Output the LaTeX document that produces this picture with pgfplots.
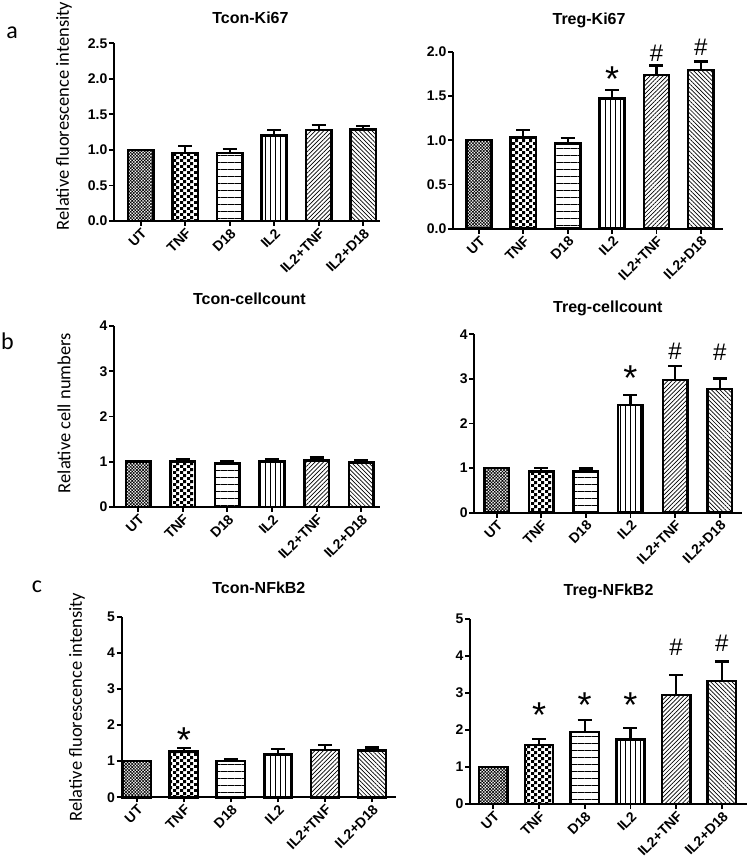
\documentclass[border=0pt]{standalone}
\usepackage{pgfplots}
\pgfplotsset{compat=1.18}
\usepackage{pgfplotstable}
\usepackage{fontspec}
\setmainfont{Liberation Sans}
\newfontfamily\carlito{Carlito}
\usetikzlibrary{patterns,patterns.meta}

\pgfdeclarepatternformonly{tnfpat}{\pgfpointorigin}{\pgfqpoint{6.4pt}{6.4pt}}{\pgfqpoint{6.4pt}{6.4pt}}{%
  \pgfpathrectangle{\pgfpointorigin}{\pgfqpoint{3.2pt}{3.2pt}}%
  \pgfpathrectangle{\pgfqpoint{3.2pt}{3.2pt}}{\pgfqpoint{3.2pt}{3.2pt}}%
  \pgfusepath{fill}}

\pgfplotstableread{
x y e
0 1.00 0
1 0.96 0.09
2 0.96 0.05
3 1.205 0.075
4 1.28 0.07
5 1.29 0.05
}\tA
\pgfplotstableread{
x y e
0 1.00 0
1 1.03 0.085
2 0.965 0.06
3 1.47 0.095
4 1.735 0.11
5 1.795 0.095
}\tB
\pgfplotstableread{
x y e
0 1.00 0
1 1.00 0.06
2 0.965 0.05
3 1.00 0.066
4 1.03 0.066
5 0.985 0.06
}\tC
\pgfplotstableread{
x y e
0 1.00 0
1 0.92 0.08
2 0.92 0.07
3 2.41 0.22
4 2.98 0.31
5 2.77 0.24
}\tD
\pgfplotstableread{
x y e
0 1.00 0
1 1.27 0.09
2 1.01 0.055
3 1.19 0.14
4 1.31 0.13
5 1.29 0.09
}\tE
\pgfplotstableread{
x y e
0 1.00 0
1 1.60 0.15
2 1.95 0.31
3 1.75 0.31
4 2.95 0.54
5 3.33 0.52
}\tF

\pgfplotsset{
  panel/.style={scale only axis, axis lines*=left, clip=false, enlargelimits=false,
    anchor=south west, ymin=0,
    xtick={0,1,2,3,4,5}, xticklabels={UT,TNF,D18,IL2,IL2+TNF,IL2+D18},
    tick align=outside, major tick length=5pt,
    tick style={black, line width=1.8pt},
    axis line style={black, line width=2pt},
    ticklabel style={font=\bfseries\fontsize{14}{16}\selectfont},
    xticklabel style={rotate=45, anchor=north east, inner sep=1pt},
    yticklabel style={inner sep=1.5pt},
    /pgf/number format/assume math mode=true,
    every axis title shift=0pt,
    title style={font=\bfseries\fontsize{16}{18}\selectfont, anchor=center},
    ylabel style={font=\carlito\fontsize{18.5}{20}\selectfont, anchor=center},
    bar width=0.57,
  },
  BAR/.style={ybar, bar shift=0pt, draw=black, line width=2.5pt},
  EB/.style={error bars/y dir=plus, error bars/y explicit,
    error bars/error bar style={line width=2.2pt, black},
    error bars/error mark options={rotate=90, mark size=7pt, line width=2.2pt, black}},
}

\newcommand\sixbars[1]{%
  \addplot[BAR, pattern={Hatch[angle=45,distance=2.2pt,line width=0.6pt]}, restrict x to domain=-0.2:0.2] table[x=x,y=y]{#1};
  \addplot[BAR, pattern=tnfpat, EB, restrict x to domain=0.8:1.2] table[x=x,y=y,y error=e]{#1};
  \addplot[BAR, pattern={Lines[angle=0,distance=7pt,line width=0.7pt]}, EB, restrict x to domain=1.8:2.2] table[x=x,y=y,y error=e]{#1};
  \addplot[BAR, pattern={Lines[angle=90,distance=5pt,line width=0.7pt]}, EB, restrict x to domain=2.8:3.2] table[x=x,y=y,y error=e]{#1};
  \addplot[BAR, pattern={Lines[angle=45,distance=3pt,line width=0.7pt]}, EB, restrict x to domain=3.8:4.2] table[x=x,y=y,y error=e]{#1};
  \addplot[BAR, pattern={Lines[angle=-45,distance=3pt,line width=0.7pt]}, EB, restrict x to domain=4.8:5.2] table[x=x,y=y,y error=e]{#1};
}
\newcommand\stars[1]{\addplot[only marks, mark=*, mark size=0pt, mark options={draw=none,fill=none},
  nodes near coords={*}, nodes near coords style={anchor=base, yshift=-20.7pt, inner sep=0pt, text=black, font=\fontsize{36}{36}\selectfont}] coordinates {#1};}
\newcommand\hashes[1]{\addplot[only marks, mark=*, mark size=0pt, mark options={draw=none,fill=none},
  nodes near coords={\#}, nodes near coords style={anchor=base, yshift=-8.8pt, inner sep=0pt, text=black, font=\fontsize{24}{24}\selectfont}] coordinates {#1};}

\begin{document}
\begin{tikzpicture}
\useasboundingbox (0,0) rectangle (750pt,862pt);

% a left
\begin{axis}[panel, at={(114pt,641pt)}, width=266pt, height=177.7pt,
  xmin=-0.6, xmax=5.38, ymax=2.5, ytick={0,0.5,1,1.5,2,2.5},
  yticklabel style={/pgf/number format/fixed, /pgf/number format/fixed zerofill, /pgf/number format/precision=1},
  title={Tcon-Ki67}, title style={at={(rel axis cs:0.513,1.145)}},
  ylabel={Relative fluorescence intensity}, ylabel style={at={(rel axis cs:-0.188,0.591)}}]
\sixbars{\tA}
\end{axis}

% a right
\begin{axis}[panel, at={(453pt,633.3pt)}, width=270pt, height=177pt,
  xmin=-0.586, xmax=5.5, ymax=2, ytick={0,0.5,1,1.5,2},
  yticklabel style={/pgf/number format/fixed, /pgf/number format/fixed zerofill, /pgf/number format/precision=1},
  title={Treg-Ki67}, title style={at={(rel axis cs:0.504,1.179)}}]
\sixbars{\tB}
\stars{(3,1.78)}
\hashes{(4,1.99) (5,2.06)}
\end{axis}

% b left
\begin{axis}[panel, at={(114pt,355pt)}, width=266pt, height=181pt, bar width=0.55,
  xmin=-0.54, xmax=5.42, ymax=4, ytick={0,1,2,3,4},
  title={Tcon-cellcount}, title style={at={(rel axis cs:0.509,1.149)}},
  ylabel={Relative cell numbers}, ylabel style={at={(rel axis cs:-0.188,0.519)}}]
\sixbars{\tC}
\end{axis}

% b right
\begin{axis}[panel, at={(474.3pt,349.3pt)}, width=267.7pt, height=178.4pt, bar width=0.55,
  xmin=-0.5, xmax=5.5, ymax=4, ytick={0,1,2,3,4},
  title={Treg-cellcount}, title style={at={(rel axis cs:0.499,1.147)}}]
\sixbars{\tD}
\stars{(3,3.21)}
\hashes{(4,3.63) (5,3.60)}
\end{axis}

% c left
\begin{axis}[panel, at={(121.7pt,64.7pt)}, width=274.3pt, height=180.6pt, bar width=0.6,
  xmin=-0.32, xmax=5.51, ymax=5, ytick={0,1,2,3,4,5},
  title={Tcon-NFkB2}, title style={at={(rel axis cs:0.5,1.162)}},
  ylabel={Relative fluorescence intensity}, ylabel style={at={(rel axis cs:-0.163,0.5)}}]
\sixbars{\tE}
\stars{(1,1.80)}
\end{axis}

% c right
\begin{axis}[panel, at={(470pt,58pt)}, width=277pt, height=185pt, bar width=0.62,
  xmin=-0.51, xmax=5.55, ymax=5, ytick={0,1,2,3,4,5},
  title={Treg-NFkB2}, title style={at={(rel axis cs:0.5,1.151)}}]
\sixbars{\tF}
\stars{(1,2.62) (2,2.90) (3,2.90)}
\hashes{(4,4.24) (5,4.37)}
\end{axis}

\node[font=\carlito\fontsize{24}{24}\selectfont] at (12pt,829.5pt) {a};
\node[font=\carlito\fontsize{24}{24}\selectfont] at (7.5pt,521pt) {b};
\node[font=\carlito\fontsize{24}{24}\selectfont] at (37pt,275pt) {c};
\end{tikzpicture}
\end{document}
